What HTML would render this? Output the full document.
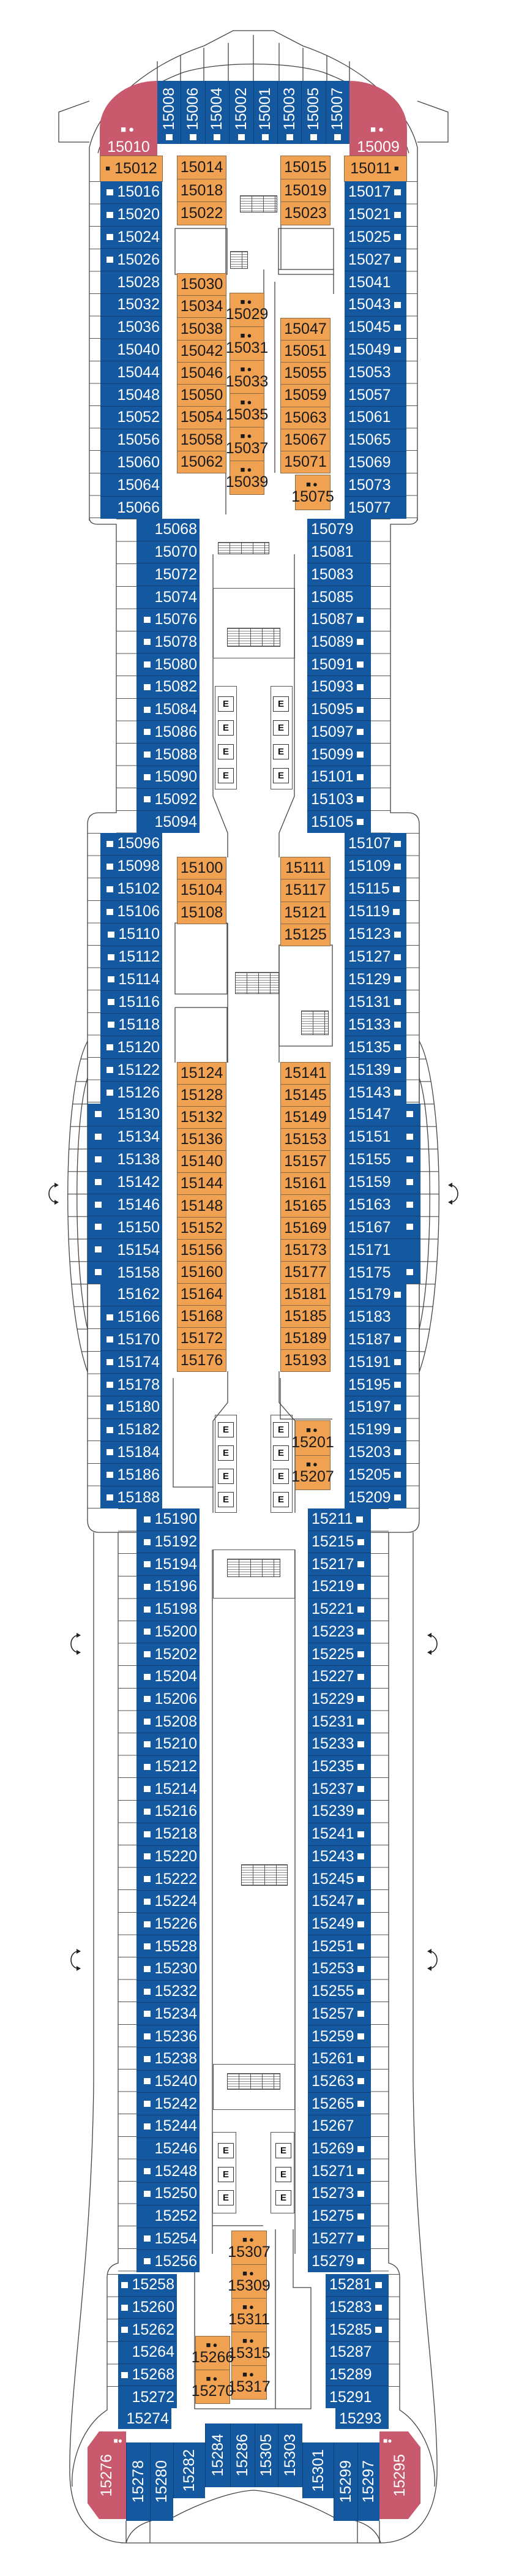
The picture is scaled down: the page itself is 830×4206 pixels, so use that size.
<!DOCTYPE html>
<html><head><meta charset="utf-8">
<style>
body{margin:0;width:830px;height:4206px;position:relative;background:#fff;font-family:"Liberation Sans",sans-serif;overflow:hidden}
.col{position:absolute;display:flex;flex-direction:column}
.col>div{flex:1;box-sizing:border-box;position:relative;font-size:25px;line-height:1;display:flex;align-items:center;white-space:nowrap}
.b>div{background:#1458a0;color:#fff}
.b>div+div{border-top:1.5px solid #0d3d72}
.o>div{background:#f0a152;color:#1a1a1a;justify-content:center}
.o>div+div{border-top:1px solid #8b6a45}
.o{outline:1px solid #8b6a45}
.L>div{justify-content:flex-end;padding-right:4px}
.R>div{justify-content:flex-start;padding-left:6px}
.L>.s::before{content:"";display:inline-block;width:11px;height:10px;background:#fff;margin-right:6px}
.R>.s::after{content:"";display:inline-block;width:11px;height:10px;background:#fff;margin-left:5px}
.FL>.s::before{position:absolute;left:12px;top:12px;margin:0}
.FR>.s::after{position:absolute;right:12px;top:12px;margin:0}
.m>div{flex-direction:column;justify-content:center;overflow:visible}
.ic{font-size:13px;line-height:1;margin-bottom:2px;letter-spacing:3px}
.a{position:absolute;box-sizing:border-box}
.tk{position:absolute;box-sizing:border-box;background:repeating-linear-gradient(to bottom,#555 0 1px,transparent 1px 36.6px)}
.e{position:absolute;width:26px;height:25px;box-sizing:border-box;border:1.5px solid #333;background:#fff;font:bold 15px "Liberation Sans",sans-serif;display:flex;align-items:center;justify-content:center;color:#111}
.br{position:absolute;border:1.3px solid #555;box-sizing:border-box}
.st{position:absolute;box-sizing:border-box;border:1.3px solid #444;background:repeating-linear-gradient(to right,transparent 0 18px,#555 18px 19px),repeating-linear-gradient(to bottom,#888 0 1px,transparent 1px 4px)}
.top{position:absolute;display:flex}
.top>div{flex:1;background:#1458a0;color:#fff;display:flex;flex-direction:column;align-items:center;justify-content:flex-end;padding-bottom:6px;box-sizing:border-box}
.top>div+div{border-left:1.5px solid #0d3d72}
.v{writing-mode:vertical-rl;transform:rotate(180deg);font-size:25px;line-height:1}
.sq{width:11px;height:10px;background:#fff;margin-top:6px}
.pk{position:absolute;background:#c95a6e;color:#fff;display:flex;flex-direction:column;align-items:center;justify-content:flex-end;font-size:25px}
.bt{position:absolute;background:#1458a0;color:#fff;display:flex;align-items:center;justify-content:center;box-sizing:border-box;border-left:1.5px solid #0d3d72}
</style></head><body>

<svg width="830" height="4206" style="position:absolute;left:0;top:0" fill="none" stroke="#444" stroke-width="1.3">
<defs>
<pattern id="tk" width="60" height="36.75" patternUnits="userSpaceOnUse" patternTransform="translate(0,1802)"><rect x="0" y="0" width="60" height="1.2" fill="#555" stroke="none"/></pattern>
</defs>
<path d="M146,850 L146,241 C160,180 230,110 333,75 L381,50 L447,50 L495,75 C598,110 668,180 682,241 L682,850"/>
<path d="M160,250 C180,180 240,140 300,118 C360,100 470,100 528,118 C588,140 648,180 668,250"/>
<path d="M146,165 L96,183 L96,232 L146,232"/><path d="M682,165 L732,183 L732,232 L682,232"/>
<path d="M257,100 V132 M295,90 V132 M333,78 V132 M373,70 V132 M414,57 V132 M456,70 V132 M495,78 V132 M534,90 V132 M571,100 V132"/>
<path d="M146,845 Q146,856 160,856 L190,856 L190,1327 L162,1327 Q143,1327 143,1346 L143,2482 Q143,2502 162,2502 L223,2502"/>
<path d="M682,845 Q682,856 668,856 L638,856 L638,1327 L666,1327 Q685,1327 685,1346 L685,2482 Q685,2502 666,2502 L606,2502"/>
<path d="M143,1700 C100,1780 100,2120 143,2240 Z" fill="url(#tk)"/>
<path d="M685,1700 C728,1780 728,2120 685,2240 Z" fill="url(#tk)"/>
<path d="M143,1760 C120,1830 120,2070 143,2170"/><path d="M685,1760 C708,1830 708,2070 685,2170"/>
<path d="M153,2502 L153,3400 C150,3700 112,3900 114,4040 C116,4120 160,4152 206,4152 L622,4152 C668,4152 712,4120 714,4040 C716,3900 678,3700 675,3400 L675,2502"/>
<path d="M193,2502 V3695 Q175,3700 175,3718 V3935 C135,3960 115,4020 118,4060"/>
<path d="M635,2502 V3695 Q653,3700 653,3718 V3935 C693,3960 713,4020 710,4060"/>
<path d="M206,4152 C216,4118 255,4112 283,4110 C330,4085 380,4068 414,4066 C448,4068 498,4085 545,4110 C573,4112 612,4118 622,4152"/>
<path d="M206,4116 V4152 M245,4116 V4152 M584,4116 V4152 M620,4116 V4152"/>
<path d="M348,905 V1300 L372,1360 V1400 M481,905 V1300 L456,1360 V1400"/>
<path d="M372,1507 V1735 M456,1543 V1735 M372,2239 V2290 L348,2320 V2470 M456,2239 V2290 L482,2320 V2470"/>
<path d="M347,2530 V3680 M482,2530 V3680"/>
<path d="M286,373 H371 V448 H286 Z M455,373 H545 V448 H455 Z"/>
<path d="M369,340 V840 M459,340 V440 M431,440 V807 M449,460 V772 M545,448 V480 M455,440 H545"/>
<path d="M286,1507 H371 V1623 H286 Z M456,1543 H543 V1708 H456 Z M286,1645 H371 V1735 M286,1645 V1735"/>
<path d="M283,2250 V2428 H349 M458,2250 V2317 H543"/>
<path d="M318,3634 V3933 H508 V3735 H479 V3640 M347,3634 H430 M450,3640 V3933"/>
<g stroke="#222" stroke-width="1.6">
<path d="M92,1935 A12,14 0 0 0 92,1963"/><path d="M736,1935 A12,14 0 0 1 736,1963"/>
<path d="M128,2670 A12,14 0 0 0 128,2698"/><path d="M702,2670 A12,14 0 0 1 702,2698"/>
<path d="M128,3186 A12,14 0 0 0 128,3214"/><path d="M702,3186 A12,14 0 0 1 702,3214"/>
</g>
<g fill="#222" stroke="none">
<path d="M96,1935 l-7,-4 v8z M96,1963 l-7,-4 v8z M732,1935 l7,-4 v8z M732,1963 l7,-4 v8z"/>
<path d="M132,2670 l-7,-4 v8z M132,2698 l-7,-4 v8z M698,2670 l7,-4 v8z M698,2698 l7,-4 v8z"/>
<path d="M132,3186 l-7,-4 v8z M132,3214 l-7,-4 v8z M698,3186 l7,-4 v8z M698,3214 l7,-4 v8z"/>
</g>
</svg>

<div class="tk" style="left:146px;top:296px;width:18px;height:551px"></div>
<div class="tk" style="left:664px;top:296px;width:18px;height:551px"></div>
<div class="tk" style="left:190px;top:847px;width:33px;height:513px"></div>
<div class="tk" style="left:606px;top:847px;width:32px;height:513px"></div>
<div class="tk" style="left:143px;top:1360px;width:21px;height:442px"></div>
<div class="tk" style="left:664px;top:1360px;width:21px;height:442px"></div>
<div class="tk" style="left:143px;top:2096px;width:21px;height:367px"></div>
<div class="tk" style="left:664px;top:2096px;width:21px;height:367px"></div>
<div class="tk" style="left:193px;top:2463px;width:30px;height:1247px"></div>
<div class="tk" style="left:606px;top:2463px;width:29px;height:1247px"></div>
<div class="tk" style="left:175px;top:3713px;width:18px;height:219px"></div>
<div class="tk" style="left:635px;top:3713px;width:18px;height:219px"></div>

<div class="st" style="left:392px;top:319px;width:61px;height:28px"></div>
<div class="st" style="left:376px;top:410px;width:29px;height:29px"></div>
<div class="st" style="left:356px;top:885px;width:84px;height:20px"></div>
<div class="br" style="left:348px;top:960px;width:134px;height:115px"></div>
<div class="st" style="left:371px;top:1025px;width:87px;height:31px"></div>
<div class="st" style="left:384px;top:1587px;width:72px;height:36px"></div>
<div class="st" style="left:492px;top:1650px;width:45px;height:40px"></div>
<div class="st" style="left:371px;top:2545px;width:87px;height:30px"></div>
<div class="br" style="left:348px;top:2530px;width:134px;height:80px"></div>
<div class="st" style="left:394px;top:3044px;width:76px;height:35px"></div>
<div class="br" style="left:348px;top:3370px;width:134px;height:75px"></div>
<div class="st" style="left:371px;top:3385px;width:87px;height:27px"></div>

<div class="br" style="left:351px;top:1120px;width:36px;height:169px"></div>
<div class="br" style="left:442px;top:1120px;width:36px;height:169px"></div>
<div class="e" style="left:356px;top:1137px">E</div><div class="e" style="left:356px;top:1176px">E</div><div class="e" style="left:356px;top:1215px">E</div><div class="e" style="left:356px;top:1254px">E</div>
<div class="e" style="left:446px;top:1137px">E</div><div class="e" style="left:446px;top:1176px">E</div><div class="e" style="left:446px;top:1215px">E</div><div class="e" style="left:446px;top:1254px">E</div>
<div class="br" style="left:351px;top:2310px;width:36px;height:160px"></div>
<div class="br" style="left:442px;top:2310px;width:36px;height:160px"></div>
<div class="e" style="left:356px;top:2322px">E</div><div class="e" style="left:356px;top:2360px">E</div><div class="e" style="left:356px;top:2398px">E</div><div class="e" style="left:356px;top:2436px">E</div>
<div class="e" style="left:446px;top:2322px">E</div><div class="e" style="left:446px;top:2360px">E</div><div class="e" style="left:446px;top:2398px">E</div><div class="e" style="left:446px;top:2436px">E</div>
<div class="br" style="left:347px;top:3481px;width:39px;height:133px"></div>
<div class="br" style="left:442px;top:3481px;width:39px;height:133px"></div>
<div class="e" style="left:356px;top:3499px">E</div><div class="e" style="left:356px;top:3538px">E</div><div class="e" style="left:356px;top:3576px">E</div>
<div class="e" style="left:450px;top:3499px">E</div><div class="e" style="left:450px;top:3538px">E</div><div class="e" style="left:450px;top:3576px">E</div>

<div class="pk" style="left:163px;top:132px;width:94px;height:123px;border-top-left-radius:94px 78px;padding-bottom:10px"><div style="font-size:15px;letter-spacing:4px;margin-bottom:6px">■●</div>15010</div>
<div class="pk" style="left:571px;top:132px;width:94px;height:123px;border-top-right-radius:94px 78px;padding-bottom:10px"><div style="font-size:15px;letter-spacing:4px;margin-bottom:6px">■●</div>15009</div>
<div class="top" style="left:257px;top:132px;width:314px;height:103px">
<div><span class="v">15008</span><div class="sq"></div></div>
<div><span class="v">15006</span><div class="sq"></div></div>
<div><span class="v">15004</span><div class="sq"></div></div>
<div><span class="v">15002</span><div class="sq"></div></div>
<div><span class="v">15001</span><div class="sq"></div></div>
<div><span class="v">15003</span><div class="sq"></div></div>
<div><span class="v">15005</span><div class="sq"></div></div>
<div><span class="v">15007</span><div class="sq"></div></div>
</div>

<div class="col o" style="left:164px;top:255px;width:101px;height:41px"><div><span class="ic" style="margin-right:4px">■</span>15012</div></div>
<div class="col o" style="left:563px;top:255px;width:101px;height:41px"><div>15011<span class="ic" style="margin-left:4px">■</span></div></div>
<div class="col b L" style="left:164px;top:296px;width:101px;height:551px">
<div class="s">15016</div><div class="s">15020</div><div class="s">15024</div><div class="s">15026</div><div>15028</div><div>15032</div><div>15036</div><div>15040</div><div>15044</div><div>15048</div><div>15052</div><div>15056</div><div>15060</div><div>15064</div><div>15066</div>
</div>
<div class="col b R" style="left:563px;top:296px;width:101px;height:551px">
<div class="s">15017</div><div class="s">15021</div><div class="s">15025</div><div class="s">15027</div><div>15041</div><div class="s">15043</div><div class="s">15045</div><div class="s">15049</div><div>15053</div><div>15057</div><div>15061</div><div>15065</div><div>15069</div><div>15073</div><div>15077</div>
</div>
<div class="col o" style="left:290px;top:255px;width:79px;height:112px"><div>15014</div><div>15018</div><div>15022</div></div>
<div class="col o" style="left:459px;top:255px;width:80px;height:112px"><div>15015</div><div>15019</div><div>15023</div></div>
<div class="col o" style="left:290px;top:447px;width:79px;height:325px"><div>15030</div><div>15034</div><div>15038</div><div>15042</div><div>15046</div><div>15050</div><div>15054</div><div>15058</div><div>15062</div></div>
<div class="col o m" style="left:376px;top:479px;width:55px;height:328px">
<div><span class="ic">■●</span>15029</div><div><span class="ic">■●</span>15031</div><div><span class="ic">■●</span>15033</div><div><span class="ic">■●</span>15035</div><div><span class="ic">■●</span>15037</div><div><span class="ic">■●</span>15039</div></div>
<div class="col o" style="left:459px;top:520px;width:80px;height:252px"><div>15047</div><div>15051</div><div>15055</div><div>15059</div><div>15063</div><div>15067</div><div>15071</div></div>
<div class="col o m" style="left:483px;top:776px;width:56px;height:56px"><div><span class="ic">■●</span>15075</div></div>

<div class="col b L" style="left:223px;top:847px;width:103px;height:513px">
<div>15068</div><div>15070</div><div>15072</div><div>15074</div><div class="s">15076</div><div class="s">15078</div><div class="s">15080</div><div class="s">15082</div><div class="s">15084</div><div class="s">15086</div><div class="s">15088</div><div class="s">15090</div><div class="s">15092</div><div>15094</div>
</div>
<div class="col b R" style="left:502px;top:847px;width:104px;height:513px">
<div>15079</div><div>15081</div><div>15083</div><div>15085</div><div class="s">15087</div><div class="s">15089</div><div class="s">15091</div><div class="s">15093</div><div class="s">15095</div><div class="s">15097</div><div class="s">15099</div><div class="s">15101</div><div class="s">15103</div><div class="s">15105</div>
</div>

<div class="col b L" style="left:164px;top:1360px;width:101px;height:442px">
<div class="s">15096</div><div class="s">15098</div><div class="s">15102</div><div class="s">15106</div><div class="s">15110</div><div class="s">15112</div><div class="s">15114</div><div class="s">15116</div><div class="s">15118</div><div class="s">15120</div><div class="s">15122</div><div class="s">15126</div>
</div>
<div class="col b L FL" style="left:143px;top:1802px;width:122px;height:294px">
<div class="s">15130</div><div class="s">15134</div><div class="s">15138</div><div class="s">15142</div><div class="s">15146</div><div class="s">15150</div><div class="s">15154</div><div class="s">15158</div>
</div>
<div class="col b L" style="left:164px;top:2096px;width:101px;height:367px">
<div>15162</div><div class="s">15166</div><div class="s">15170</div><div class="s">15174</div><div class="s">15178</div><div class="s">15180</div><div class="s">15182</div><div class="s">15184</div><div class="s">15186</div><div class="s">15188</div>
</div>
<div class="col b R" style="left:563px;top:1360px;width:101px;height:442px">
<div class="s">15107</div><div class="s">15109</div><div class="s">15115</div><div class="s">15119</div><div class="s">15123</div><div class="s">15127</div><div class="s">15129</div><div class="s">15131</div><div class="s">15133</div><div class="s">15135</div><div class="s">15139</div><div class="s">15143</div>
</div>
<div class="col b R FR" style="left:563px;top:1802px;width:124px;height:294px">
<div class="s">15147</div><div class="s">15151</div><div class="s">15155</div><div class="s">15159</div><div class="s">15163</div><div class="s">15167</div><div>15171</div><div class="s">15175</div>
</div>
<div class="col b R" style="left:563px;top:2096px;width:101px;height:367px">
<div class="s">15179</div><div>15183</div><div class="s">15187</div><div class="s">15191</div><div class="s">15195</div><div class="s">15197</div><div class="s">15199</div><div class="s">15203</div><div class="s">15205</div><div class="s">15209</div>
</div>
<div class="col o" style="left:290px;top:1400px;width:79px;height:108px"><div>15100</div><div>15104</div><div>15108</div></div>
<div class="col o" style="left:459px;top:1400px;width:80px;height:144px"><div>15111</div><div>15117</div><div>15121</div><div>15125</div></div>
<div class="col o" style="left:290px;top:1735px;width:79px;height:504px"><div>15124</div><div>15128</div><div>15132</div><div>15136</div><div>15140</div><div>15144</div><div>15148</div><div>15152</div><div>15156</div><div>15160</div><div>15164</div><div>15168</div><div>15172</div><div>15176</div></div>
<div class="col o" style="left:459px;top:1735px;width:80px;height:504px"><div>15141</div><div>15145</div><div>15149</div><div>15153</div><div>15157</div><div>15161</div><div>15165</div><div>15169</div><div>15173</div><div>15177</div><div>15181</div><div>15185</div><div>15189</div><div>15193</div></div>
<div class="col o m" style="left:483px;top:2320px;width:56px;height:112px"><div><span class="ic">■●</span>15201</div><div><span class="ic">■●</span>15207</div></div>

<div class="col b L" style="left:223px;top:2463px;width:103px;height:1247px">
<div class="s">15190</div><div class="s">15192</div><div class="s">15194</div><div class="s">15196</div><div class="s">15198</div><div class="s">15200</div><div class="s">15202</div><div class="s">15204</div><div class="s">15206</div><div class="s">15208</div><div class="s">15210</div><div class="s">15212</div><div class="s">15214</div><div class="s">15216</div><div class="s">15218</div><div class="s">15220</div><div class="s">15222</div><div class="s">15224</div><div class="s">15226</div><div class="s">15528</div><div class="s">15230</div><div class="s">15232</div><div class="s">15234</div><div class="s">15236</div><div class="s">15238</div><div class="s">15240</div><div class="s">15242</div><div class="s">15244</div><div>15246</div><div class="s">15248</div><div class="s">15250</div><div>15252</div><div class="s">15254</div><div class="s">15256</div>
</div>
<div class="col b R" style="left:503px;top:2463px;width:103px;height:1247px">
<div class="s">15211</div><div class="s">15215</div><div class="s">15217</div><div class="s">15219</div><div class="s">15221</div><div class="s">15223</div><div class="s">15225</div><div class="s">15227</div><div class="s">15229</div><div class="s">15231</div><div class="s">15233</div><div class="s">15235</div><div class="s">15237</div><div class="s">15239</div><div class="s">15241</div><div class="s">15243</div><div class="s">15245</div><div class="s">15247</div><div class="s">15249</div><div class="s">15251</div><div class="s">15253</div><div class="s">15255</div><div class="s">15257</div><div class="s">15259</div><div class="s">15261</div><div class="s">15263</div><div class="s">15265</div><div>15267</div><div class="s">15269</div><div class="s">15271</div><div class="s">15273</div><div class="s">15275</div><div class="s">15277</div><div class="s">15279</div>
</div>

<div class="col b L" style="left:193px;top:3713px;width:96px;height:219px">
<div class="s">15258</div><div class="s">15260</div><div class="s">15262</div><div>15264</div><div class="s">15268</div><div>15272</div>
</div>
<div class="col b L" style="left:193px;top:3932px;width:87px;height:34px"><div>15274</div></div>
<div class="col b R" style="left:532px;top:3713px;width:103px;height:219px">
<div class="s">15281</div><div class="s">15283</div><div class="s">15285</div><div>15287</div><div>15289</div><div>15291</div>
</div>
<div class="col b R" style="left:548px;top:3932px;width:87px;height:34px"><div>15293</div></div>
<div class="col o m" style="left:379px;top:3643px;width:56px;height:274px">
<div><span class="ic">■●</span>15307</div><div><span class="ic">■●</span>15309</div><div><span class="ic">■●</span>15311</div><div><span class="ic">■●</span>15315</div><div><span class="ic">■●</span>15317</div></div>
<div class="col o m" style="left:320px;top:3815px;width:55px;height:109px"><div><span class="ic">■●</span>15266</div><div><span class="ic">■●</span>15270</div></div>

<div class="pk" style="left:143px;top:3970px;width:63px;height:143px;clip-path:polygon(0 18%,30% 0,100% 0,100% 100%,30% 100%,0 82%);flex-direction:row;justify-content:center;align-items:center"><span class="v">15276</span><span style="font-size:12px;position:absolute;top:8px;right:6px">■●</span></div>
<div class="pk" style="left:620px;top:3970px;width:67px;height:143px;clip-path:polygon(0 0,70% 0,100% 18%,100% 82%,70% 100%,0 100%);flex-direction:row;justify-content:center;align-items:center"><span class="v">15295</span><span style="font-size:12px;position:absolute;top:8px;left:6px">■●</span></div>
<div class="bt" style="left:206px;top:3988px;width:39px;height:128px"><span class="v">15278</span></div>
<div class="bt" style="left:245px;top:3988px;width:38px;height:128px"><span class="v">15280</span></div>
<div class="bt" style="left:283px;top:3988px;width:52px;height:91px"><span class="v">15282</span></div>
<div class="bt" style="left:335px;top:3957px;width:41px;height:104px"><span class="v">15284</span></div>
<div class="bt" style="left:376px;top:3957px;width:40px;height:104px"><span class="v">15286</span></div>
<div class="bt" style="left:416px;top:3957px;width:38px;height:104px"><span class="v">15305</span></div>
<div class="bt" style="left:454px;top:3957px;width:40px;height:104px"><span class="v">15303</span></div>
<div class="bt" style="left:494px;top:3988px;width:51px;height:91px"><span class="v">15301</span></div>
<div class="bt" style="left:545px;top:3988px;width:39px;height:128px"><span class="v">15299</span></div>
<div class="bt" style="left:584px;top:3988px;width:36px;height:128px"><span class="v">15297</span></div>

</body></html>
